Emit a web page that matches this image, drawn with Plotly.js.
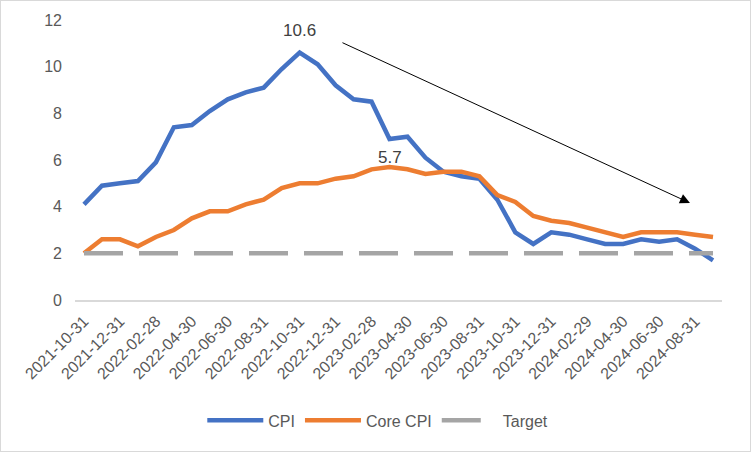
<!DOCTYPE html>
<html>
<head>
<meta charset="utf-8">
<script src="https://cdn.plot.ly/plotly-3.0.1.min.js"></script>
<style>
  html, body { margin: 0; padding: 0; background: #fff; }
  #wrap { position: relative; width: 751px; height: 452px; }
  #chart { position: absolute; left: 0; top: 0; width: 751px; height: 452px; }
  #frame { position: absolute; left: 0; top: 0; width: 749px; height: 450px; border: 1px solid #d9d9d9; pointer-events: none; }
</style>
</head>
<body>
<div id="wrap"><div id="chart"></div><div id="frame"></div></div>
<script>
// Months (month-end dates)
const categories = [
  "2021-10-31","2021-11-30","2021-12-31",
  "2022-01-31","2022-02-28","2022-03-31","2022-04-30","2022-05-31","2022-06-30",
  "2022-07-31","2022-08-31","2022-09-30","2022-10-31","2022-11-30","2022-12-31",
  "2023-01-31","2023-02-28","2023-03-31","2023-04-30","2023-05-31","2023-06-30",
  "2023-07-31","2023-08-31","2023-09-30","2023-10-31","2023-11-30","2023-12-31",
  "2024-01-31","2024-02-29","2024-03-31","2024-04-30","2024-05-31","2024-06-30",
  "2024-07-31","2024-08-31","2024-09-30"
];
const cpi = [
  4.1, 4.9, 5.0,
  5.1, 5.9, 7.4, 7.5, 8.1, 8.6,
  8.9, 9.1, 9.9, 10.6, 10.1, 9.2,
  8.6, 8.5, 6.9, 7.0, 6.1, 5.5,
  5.3, 5.2, 4.3, 2.9, 2.4, 2.9,
  2.8, 2.6, 2.4, 2.4, 2.6, 2.5,
  2.6, 2.2, 1.7
];
const coreCpi = [
  2.0, 2.6, 2.6,
  2.3, 2.7, 3.0, 3.5, 3.8, 3.8,
  4.1, 4.3, 4.8, 5.0, 5.0, 5.2,
  5.3, 5.6, 5.7, 5.6, 5.4, 5.5,
  5.5, 5.3, 4.5, 4.2, 3.6, 3.4,
  3.3, 3.1, 2.9, 2.7, 2.9, 2.9,
  2.9, 2.8, 2.7
];
const target = categories.map(() => 2);
const tickLabels = categories.filter((c, i) => i % 2 === 0);

const FONT = "Liberation Sans, Arial, sans-serif";
const TXT = "#595959";

const traces = [
  { x: categories, y: cpi, name: "CPI", type: "scatter", mode: "lines",
    line: { color: "#4472C4", width: 4.5 } },
  { x: categories, y: coreCpi, name: "Core CPI", type: "scatter", mode: "lines",
    line: { color: "#ED7D31", width: 4.5 } },
  { x: categories, y: target, name: "Target", type: "scatter", mode: "lines",
    showlegend: false, legendgroup: "target",
    line: { color: "#A5A5A5", width: 4.5, dash: "39px,16px" } },
  // legend entry for Target (single dash like the reference legend)
  { x: [null], y: [null], name: "Target", type: "scatter", mode: "lines",
    legendgroup: "target",
    line: { color: "#A5A5A5", width: 4.5, dash: "39px,60px" } }
];

const peakIdx = cpi.indexOf(Math.max(...cpi));
const corePeakIdx = coreCpi.indexOf(Math.max(...coreCpi));

const layout = {
  width: 751, height: 452,
  margin: { l: 75, r: 29, t: 20, b: 152, pad: 0 },
  paper_bgcolor: "#ffffff", plot_bgcolor: "#ffffff",
  font: { family: FONT, size: 16, color: TXT },
  showlegend: true,
  legend: {
    orientation: "h", x: 0.468, xanchor: "center", y: -0.43, yanchor: "middle",
    font: { family: FONT, size: 16, color: TXT }, itemwidth: 56, bgcolor: "rgba(0,0,0,0)"
  },
  xaxis: {
    type: "category", range: [-0.5, categories.length - 0.5],
    tickvals: tickLabels, ticktext: tickLabels, tickangle: -45,
    showgrid: false, zeroline: false, showline: true, linecolor: "#d9d9d9", linewidth: 1.5,
    ticks: "", ticklabelstandoff: 4,
    tickfont: { family: FONT, size: 16, color: TXT }, fixedrange: true
  },
  yaxis: {
    range: [0, 12], dtick: 2, tick0: 0,
    showgrid: false, zeroline: false, showline: false, ticks: "",
    ticklabelstandoff: 12,
    tickfont: { family: FONT, size: 16, color: TXT }, fixedrange: true
  },
  annotations: [
    { x: categories[peakIdx], y: cpi[peakIdx], xref: "x", yref: "y",
      text: String(cpi[peakIdx]), showarrow: false, yshift: 22,
      font: { family: FONT, size: 17, color: "#404040" } },
    { x: categories[corePeakIdx], y: coreCpi[corePeakIdx], xref: "x", yref: "y",
      text: String(coreCpi[corePeakIdx]), showarrow: false, yshift: 10,
      font: { family: FONT, size: 17, color: "#404040" } },
    { x: 0.9505, y: 0.3464, xref: "paper", yref: "paper",
      ax: -349, ay: -161, text: "", showarrow: true,
      arrowhead: 2, arrowsize: 2, arrowwidth: 1, arrowcolor: "#000000", standoff: 0 }
  ]
};

Plotly.newPlot("chart", traces, layout, { displayModeBar: false, staticPlot: true });
</script>
</body>
</html>
